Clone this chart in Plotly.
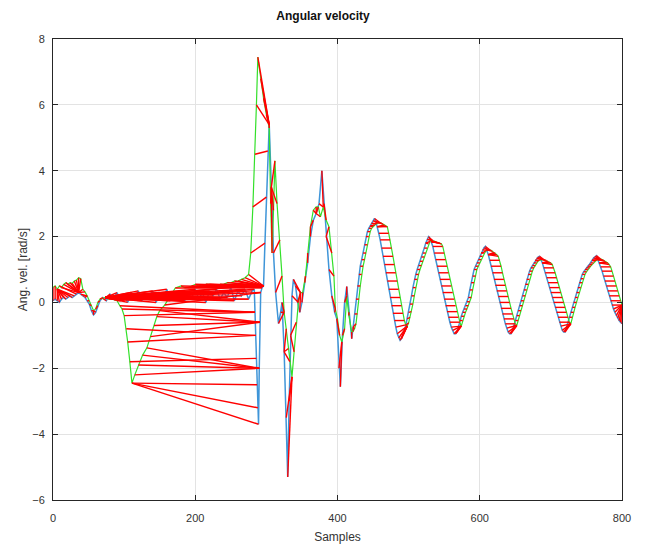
import numpy as np
import plotly.graph_objects as go

# Reference signal (blue): sample index and angular velocity [rad/s]
blue_x_head = [0, 3, 6, 9, 12, 15, 18, 21, 24, 27, 30, 33, 36, 39, 42, 45, 48, 51, 54, 57, 60,
               63, 66, 70, 75, 80, 85, 90, 95,
               100, 105, 110, 115, 120, 125, 130, 135, 140, 145, 150, 155, 160, 165, 170, 175,
               180, 185, 190, 195, 200, 205, 210, 215, 220, 225, 230, 235, 240, 245, 250, 255,
               260, 265, 270, 275, 280, 283, 284, 285, 286, 287, 288, 289, 290, 291, 292, 294,
               296, 298, 300, 302, 304, 307, 310, 313, 317, 320, 322, 325, 328, 330, 332, 334,
               336, 338, 341, 344, 347, 350, 354, 358, 362, 366, 370, 374, 378, 381, 384, 388,
               392, 396, 399, 402, 404, 407, 410, 413, 416]
blue_y_head = [0.05, 0.1, 0.05, 0.0, 0.1, 0.15, 0.1, 0.15, 0.2, 0.15, 0.2, 0.25, 0.3, 0.25, 0.2,
               0.15, 0.05, -0.05, -0.25, -0.38, -0.3, -0.1, 0.05,
               0.15, 0.05, 0.25, 0.1, 0.3, 0.05,
               0.2, 0.0, 0.3, 0.1, 0.35, 0.05, 0.25, 0.15, 0.35, 0.0, 0.3, 0.1, 0.4, 0.05, 0.3,
               0.2, 0.35, 0.05, 0.25, 0.15, 0.4, 0.1, 0.3, 0.0, 0.35, 0.2, 0.4, 0.1, 0.3, 0.15,
               0.45, 0.05, 0.35, 0.2, 0.4, 0.1, 0.35, 0.4, -0.3, -1.0, -1.7, -2.5, -3.2, -3.7,
               -2.0, -0.6, 0.3, 0.45, 0.5, 1.8, 3.2, 4.6, 5.4, 3.5, 1.5, 0.3, -0.64, -0.3, 0.0,
               -1.5, -3.5, -5.3, -3.0, -1.0, 0.2, 0.7, 0.5, 0.0, -0.3, 0.0, 0.6, 1.2, 2.0, 2.5,
               2.7, 3.0, 4.0, 3.0, 2.0, 1.0, 0.2, -0.3, -0.5, -2.0, -2.56, -1.0, 0.0, 0.48, -0.3]
# oscillating part, every 2 samples from 420 to 800
blue_y_tail = [
    -1.10, -0.75, -0.35, 0.10, 0.50, 0.85, 1.10, 1.30, 1.50, 1.75, 2.00, 2.15, 2.25, 2.32,
    2.40, 2.48, 2.55, 2.45, 2.30, 2.10, 1.90, 1.65, 1.40, 1.15, 0.90, 0.65, 0.40, 0.15, -0.10,
    -0.33, -0.55, -0.75, -0.95, -1.08, -1.15, -1.10, -1.00, -0.85, -0.70, -0.50, -0.30, -0.05,
    0.20, 0.45, 0.70, 0.85, 1.00, 1.12, 1.25, 1.38, 1.50, 1.65, 1.80, 1.92, 2.00, 1.95, 1.85,
    1.70, 1.50, 1.30, 1.10, 0.90, 0.70, 0.50, 0.30, 0.10, -0.10, -0.28, -0.45, -0.60, -0.75,
    -0.85, -0.95, -0.95, -0.90, -0.75, -0.55, -0.42, -0.30, -0.20, -0.10, 0.02, 0.15, 0.38,
    0.60, 0.80, 1.00, 1.10, 1.20, 1.30, 1.40, 1.50, 1.60, 1.66, 1.70, 1.60, 1.45, 1.28, 1.10,
    0.90, 0.70, 0.52, 0.35, 0.18, 0.00, -0.18, -0.35, -0.50, -0.65, -0.78, -0.90, -0.95,
    -0.95, -0.85, -0.70, -0.55, -0.40, -0.25, -0.10, 0.05, 0.20, 0.38, 0.55, 0.70, 0.85, 0.95,
    1.05, 1.12, 1.20, 1.28, 1.35, 1.38, 1.40, 1.32, 1.20, 1.05, 0.90, 0.75, 0.60, 0.45, 0.30,
    0.15, 0.00, -0.15, -0.30, -0.45, -0.60, -0.72, -0.85, -0.90, -0.90, -0.75, -0.60, -0.45,
    -0.30, -0.15, 0.00, 0.15, 0.30, 0.45, 0.60, 0.72, 0.85, 0.93, 1.00, 1.05, 1.10, 1.15, 1.20,
    1.28, 1.35, 1.40, 1.42, 1.30, 1.20, 1.08, 0.95, 0.80, 0.65, 0.50, 0.35, 0.20, 0.05, -0.08,
    -0.20, -0.30, -0.40, -0.48, -0.55, -0.60, -0.65]

# Measured signal (green)
green_x_head = [0, 3, 6, 9, 12, 15, 18, 21, 24, 27, 30, 33, 36, 39, 42, 45, 48, 51, 54, 57, 60,
                63, 66, 70, 74, 78, 82, 86, 90, 94, 97, 100, 103, 105, 108, 111, 115, 120, 126,
                132, 137, 142, 146, 150, 157, 165, 172, 180, 185, 190, 195, 200, 205, 210, 215,
                220, 225, 230, 235, 240, 245, 250, 255, 260, 265, 270, 275, 278, 281, 284, 286,
                288, 292, 296, 300, 304, 306, 308, 310, 312, 315, 319, 322, 325, 328, 331, 333,
                336, 339, 342, 345, 348, 351, 355, 358, 362, 366, 370, 373, 376, 380, 384, 388,
                392, 395, 397, 400, 403, 406, 410, 413, 416]
green_y_head = [0.45, 0.5, 0.4, 0.5, 0.45, 0.55, 0.6, 0.55, 0.6, 0.58, 0.65, 0.68, 0.75, 0.72,
                0.4, 0.32, 0.2, 0.05, -0.1, -0.25, -0.2, 0.0, 0.1, 0.12, 0.15, 0.1, 0.12, 0.08,
                0.05, -0.1, -0.2, -0.4, -0.8, -1.2, -1.8, -2.45, -2.2, -1.9, -1.6, -1.38, -1.04,
                -0.7, -0.43, -0.25, -0.08, 0.2, 0.44, 0.5, 0.45, 0.45, 0.5, 0.55, 0.5, 0.5,
                0.55, 0.55, 0.5, 0.5, 0.55, 0.55, 0.6, 0.6, 0.65, 0.65, 0.7, 0.75, 0.85, 1.5,
                2.9, 4.5, 6.0, 7.45, 6.8, 6.2, 5.7, 5.3, 3.0, 1.5, 2.8, 4.3, 3.0, 1.9, 0.8,
                -0.3, -0.8, -1.4, -1.8, -2.26, -1.5, -0.6, 0.0, 0.3, 0.3, 0.8, 1.5, 2.3, 2.8,
                2.9, 2.9, 2.6, 2.9, 2.5, 2.3, 1.5, 0.8, -0.2, -0.5, -1.0, -1.2, -0.8, 0.2, -0.4]
green_y_tail = [
    -0.90, -0.88, -0.80, -0.65, -0.35, 0.10, 0.50, 0.85, 1.10, 1.30, 1.50, 1.75, 2.00, 2.15,
    2.25, 2.30, 2.35, 2.38, 2.40, 2.42, 2.42, 2.40, 2.38, 2.35, 2.32, 2.30, 2.10, 1.90, 1.65,
    1.40, 1.15, 0.90, 0.65, 0.40, 0.15, -0.10, -0.33, -0.55, -0.68, -0.72, -0.62, -0.45,
    -0.28, -0.05, 0.20, 0.45, 0.70, 0.85, 1.00, 1.12, 1.25, 1.38, 1.50, 1.65, 1.78, 1.85,
    1.88, 1.88, 1.86, 1.84, 1.82, 1.81, 1.80, 1.78, 1.70, 1.50, 1.30, 1.10, 0.90, 0.70, 0.50,
    0.30, 0.10, -0.10, -0.28, -0.45, -0.60, -0.72, -0.55, -0.42, -0.30, -0.20, -0.10, 0.02,
    0.15, 0.38, 0.60, 0.80, 1.00, 1.10, 1.20, 1.30, 1.40, 1.50, 1.55, 1.58, 1.60, 1.60, 1.58,
    1.55, 1.52, 1.50, 1.45, 1.40, 1.28, 1.10, 0.90, 0.70, 0.52, 0.35, 0.18, 0.00, -0.18,
    -0.35, -0.50, -0.65, -0.70, -0.55, -0.40, -0.25, -0.10, 0.05, 0.20, 0.38, 0.55, 0.70,
    0.85, 0.95, 1.05, 1.12, 1.20, 1.25, 1.28, 1.30, 1.30, 1.30, 1.28, 1.27, 1.25, 1.22, 1.20,
    1.15, 1.05, 0.90, 0.75, 0.60, 0.45, 0.30, 0.15, 0.00, -0.15, -0.30, -0.45, -0.60, -0.65,
    -0.45, -0.30, -0.15, 0.00, 0.15, 0.30, 0.45, 0.60, 0.72, 0.85, 0.93, 1.00, 1.05, 1.10,
    1.15, 1.20, 1.25, 1.28, 1.30, 1.32, 1.32, 1.30, 1.28, 1.25, 1.22, 1.20, 1.15, 1.08, 0.95,
    0.80, 0.65, 0.50, 0.35, 0.20, 0.05, -0.08]

tail_x = list(range(420, 801, 2))
assert len(blue_x_head) == len(blue_y_head) and len(green_x_head) == len(green_y_head)
assert len(blue_y_tail) == len(tail_x), len(blue_y_tail)
assert len(green_y_tail) == len(tail_x), len(green_y_tail)

blue_x = blue_x_head + tail_x
blue_y = blue_y_head + blue_y_tail
green_x = green_x_head + tail_x
green_y = green_y_head + green_y_tail


def dtw_path(a, b):
    """Dynamic time warping (squared-difference cost); returns matched index pairs."""
    n, m = len(a), len(b)
    D = np.full((n + 1, m + 1), np.inf)
    D[0, 0] = 0.0
    cost = np.subtract.outer(np.asarray(a), np.asarray(b)) ** 2
    for i in range(1, n + 1):
        for j in range(1, m + 1):
            D[i, j] = cost[i - 1, j - 1] + min(D[i - 1, j], D[i, j - 1], D[i - 1, j - 1])
    i, j = n, m
    path = [(i - 1, j - 1)]
    while i > 1 or j > 1:
        if i == 1:
            j -= 1
        elif j == 1:
            i -= 1
        else:
            k = int(np.argmin([D[i - 1, j - 1], D[i - 1, j], D[i, j - 1]]))
            if k == 0:
                i, j = i - 1, j - 1
            elif k == 1:
                i -= 1
            else:
                j -= 1
        path.append((i - 1, j - 1))
    return path[::-1]


pairs = dtw_path(blue_y, green_y)
link_x, link_y = [], []
for i, j in pairs:
    link_x += [blue_x[i], green_x[j], None]
    link_y += [blue_y[i], green_y[j], None]

FONT = "Liberation Sans, Arial, sans-serif"

fig = go.Figure()
fig.add_trace(go.Scatter(x=blue_x, y=blue_y, mode="lines",
                         line=dict(color="#3f95d8", width=1.5), showlegend=False))
fig.add_trace(go.Scatter(x=green_x, y=green_y, mode="lines",
                         line=dict(color="#33e02a", width=1.2), showlegend=False))
fig.add_trace(go.Scatter(x=link_x, y=link_y, mode="lines",
                         line=dict(color="#ff0000", width=1.4), showlegend=False))

axis_common = dict(
    showline=True, linecolor="#262626", linewidth=1, mirror="ticks",
    ticks="inside", ticklen=5, tickcolor="#262626", automargin=False,
    showgrid=True, gridcolor="#e3e3e3", gridwidth=1, zeroline=False,
    tickfont=dict(family=FONT, size=11, color="#333333"),
)
fig.update_xaxes(range=[0, 800], tickvals=[0, 200, 400, 600, 800], ticklabelstandoff=8,
                 title=dict(text="Samples", standoff=9,
                            font=dict(family=FONT, size=12, color="#333333")),
                 **axis_common)
fig.update_yaxes(range=[-6, 8], tickvals=[-6, -4, -2, 0, 2, 4, 6, 8], ticklabelstandoff=5,
                 title=dict(text="Ang. vel. [rad/s]", standoff=2,
                            font=dict(family=FONT, size=12, color="#333333")),
                 **axis_common)
fig.update_layout(
    width=646, height=547,
    margin=dict(l=53, r=24, t=39, b=47),
    paper_bgcolor="white", plot_bgcolor="white",
    title=dict(text="<b>Angular velocity</b>", x=0.5, xanchor="center", y=0.972, yanchor="middle",
               font=dict(family=FONT, size=12, color="#111111")),
)
fig.write_html("out.html")
